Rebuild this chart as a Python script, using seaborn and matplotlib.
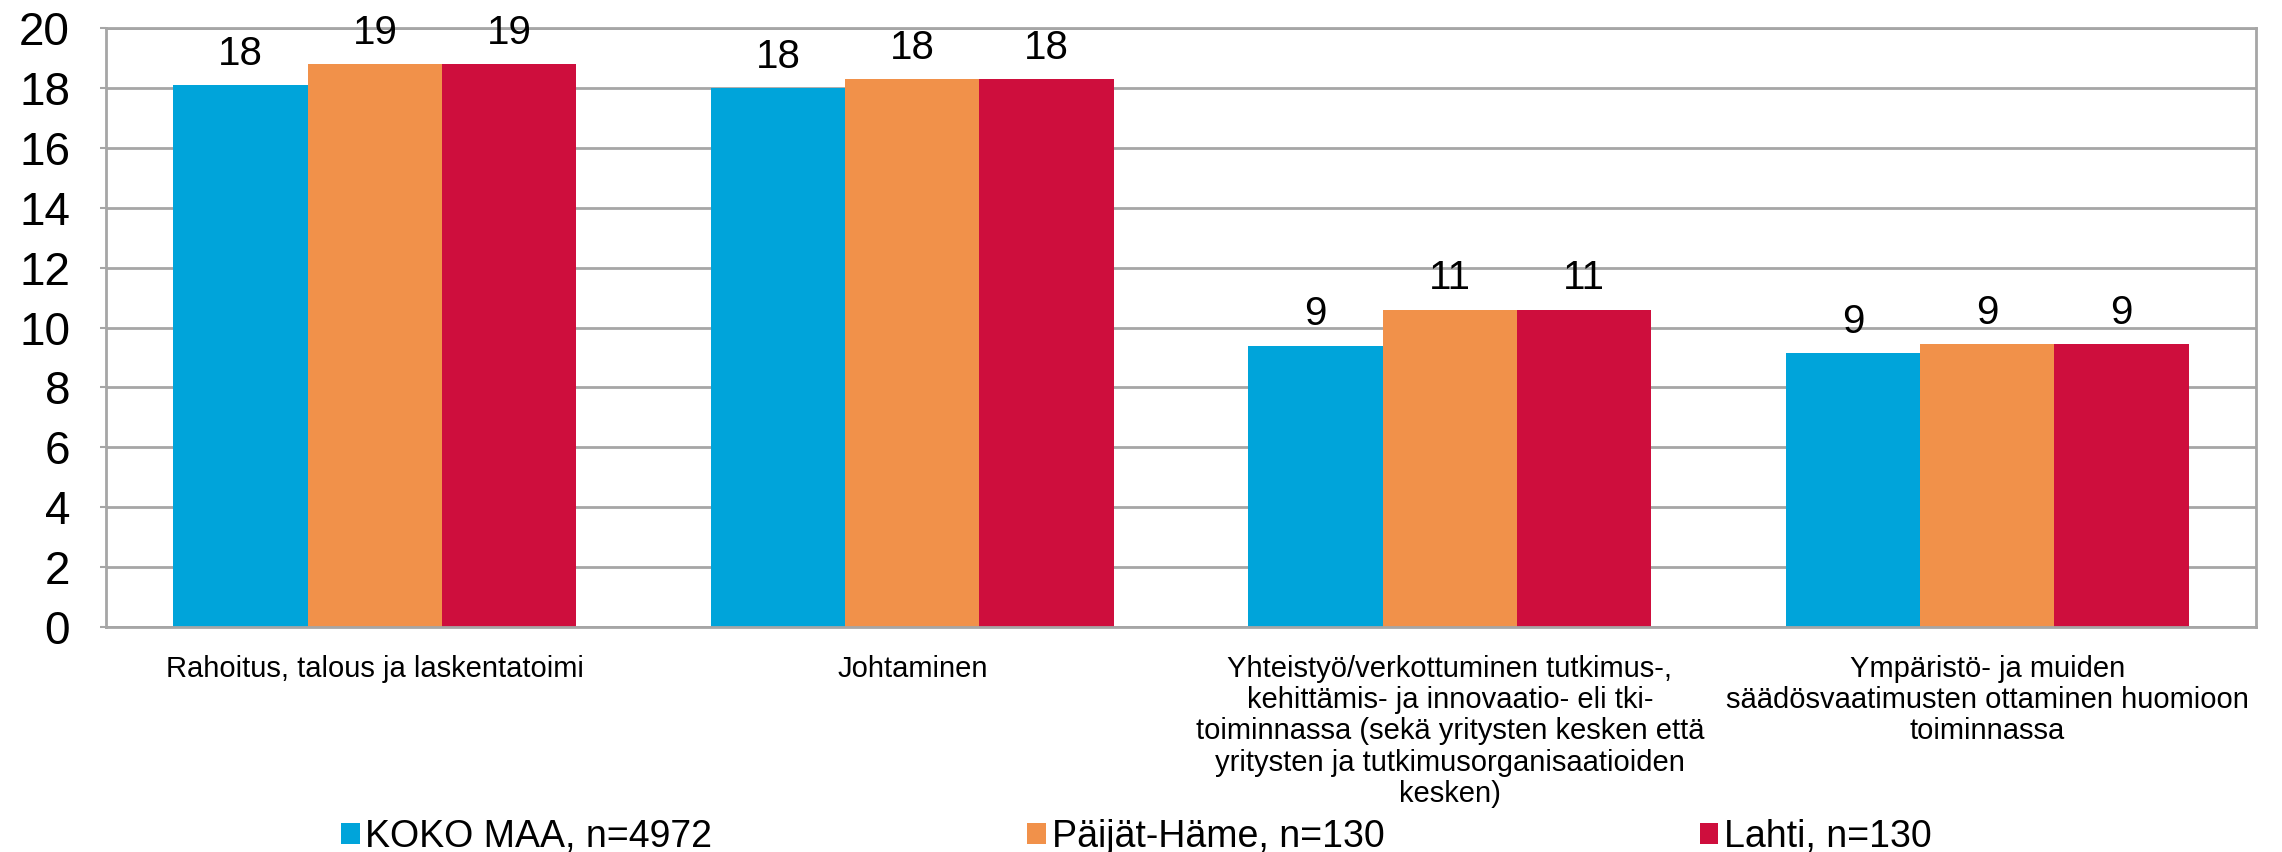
"""Grouped bar chart: osaamistarpeet by area (KOKO MAA vs Päijät-Häme vs Lahti)."""
import matplotlib

matplotlib.use("Agg")
import matplotlib.pyplot as plt
import pandas as pd
import seaborn as sns
from matplotlib.patches import Patch

CATEGORIES = [
    "Rahoitus, talous ja laskentatoimi",
    "Johtaminen",
    "Yhteistyö/verkottuminen tutkimus-,\nkehittämis- ja innovaatio- eli tki-\n"
    "toiminnassa (sekä yritysten kesken että\nyritysten ja tutkimusorganisaatioiden\nkesken)",
    "Ympäristö- ja muiden\nsäädösvaatimusten ottaminen huomioon\ntoiminnassa",
]
SERIES = ["KOKO MAA, n=4972", "Päijät-Häme, n=130", "Lahti, n=130"]
KOKO_MAA = [18.1, 18.0, 9.4, 9.15]
PAIJAT_HAME = [18.8, 18.3, 10.6, 9.45]
LAHTI = [18.8, 18.3, 10.6, 9.45]
COLORS = ["#00A4DA", "#F1914A", "#CE0E3D"]
GRID = "#A6A6A6"

sns.set_style("white")
plt.rcParams["font.family"] = ["Liberation Sans", "DejaVu Sans"]
plt.rcParams["text.color"] = "black"
plt.rcParams["xtick.labelcolor"] = "black"
plt.rcParams["ytick.labelcolor"] = "black"

df = pd.DataFrame(
    {
        "category": CATEGORIES * 3,
        "series": [s for s in SERIES for _ in CATEGORIES],
        "value": KOKO_MAA + PAIJAT_HAME + LAHTI,
    }
)

fig, ax = plt.subplots(figsize=(22.82, 8.52), dpi=100)
fig.subplots_adjust(left=0.0465, right=0.9886, top=0.967, bottom=0.264)

sns.barplot(
    df, x="category", y="value", hue="series", order=CATEGORIES, hue_order=SERIES,
    palette=COLORS, saturation=1, width=0.75, gap=0, errorbar=None, linewidth=0,
    legend=False, ax=ax,
)
for cont in ax.containers:
    ax.bar_label(cont, fmt="%.0f", padding=9, fontsize=29, color="black")

ax.set_ylim(0, 20)
ax.set_yticks(range(0, 21, 2))
ax.yaxis.grid(True, color=GRID, lw=2)
ax.set_axisbelow(True)
for side in ["left", "right", "top", "bottom"]:
    ax.spines[side].set_visible(True)
    ax.spines[side].set_color(GRID)
    ax.spines[side].set_linewidth(2)
ax.tick_params(axis="y", labelsize=33, length=4, width=1.5, color=GRID, pad=22, left=True)
ax.tick_params(axis="x", labelsize=21, length=0, pad=20)
for lbl in ax.get_xticklabels():
    lbl.set_linespacing(1.15)
ax.set_xlabel("")
ax.set_ylabel("")

handles = [Patch(facecolor=c, edgecolor="none") for c in COLORS]
fig.legend(
    handles, SERIES, loc="lower center", bbox_to_anchor=(0.498, -0.043), ncol=3,
    frameon=False, fontsize=27, handlelength=0.5, handleheight=0.5, handletextpad=0.15,
    columnspacing=8.4,
)

fig.savefig("out.png", dpi=100)
